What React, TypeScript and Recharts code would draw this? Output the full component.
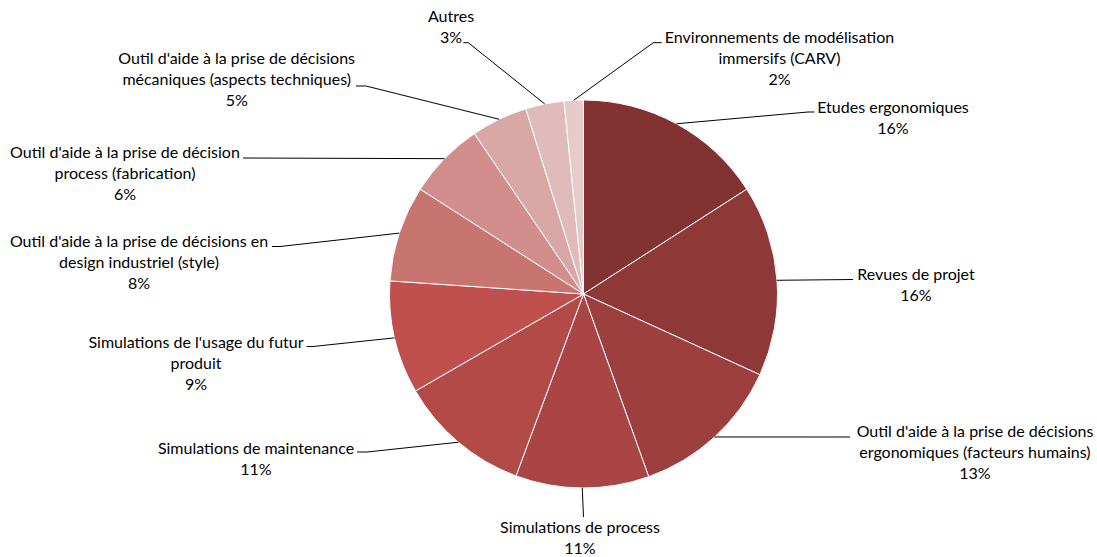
import React from 'react';
import { PieChart, Pie, Cell } from 'recharts';

const CATEGORIES: string[] = [
  'Etudes ergonomiques',
  'Revues de projet',
  "Outil d'aide à la prise de décisions ergonomiques (facteurs humains)",
  'Simulations de process',
  'Simulations de maintenance',
  "Simulations de l'usage du futur produit",
  "Outil d'aide à la prise de décisions en design industriel (style)",
  "Outil d'aide à la prise de décision process (fabrication)",
  "Outil d'aide à la prise de décisions mécaniques (aspects techniques)",
  'Autres',
  'Environnements de modélisation immersifs (CARV)',
];

const VALUES: number[] = [15.9, 15.9, 12.7, 11.1, 11.0, 9.4, 8.0, 6.4, 4.7, 3.2, 1.6];

// label text lines (wrapped as in the reference)
const LABEL_LINES: string[][] = [
  ['Etudes ergonomiques'],
  ['Revues de projet'],
  ["Outil d'aide à la prise de décisions", 'ergonomiques (facteurs humains)'],
  ['Simulations de process'],
  ['Simulations de maintenance'],
  ["Simulations de l'usage du futur", 'produit'],
  ["Outil d'aide à la prise de décisions en", 'design industriel (style)'],
  ["Outil d'aide à la prise de décision", 'process (fabrication)'],
  ["Outil d'aide à la prise de décisions", 'mécaniques (aspects techniques)'],
  ['Autres'],
  ['Environnements de modélisation', 'immersifs (CARV)'],
];

const COLORS: string[] = [
  '#833232', '#8E3837', '#9C3F3E', '#A94645', '#B24A48', '#C0504D',
  '#C87572', '#D18E8C', '#D9A7A6', '#DFBBBB', '#E6CBCB',
];

// label layout, offsets relative to the pie centre
type Layout = { tx: number; ty: number; elbow: [number, number]; end: [number, number] };
const LABEL_LAYOUT: Layout[] = [
  { tx: 309.5, ty: -181, elbow: [224.5, -182], end: [231, -182] },
  { tx: 332.5, ty: -14, elbow: [269.5, -14.5], end: [269.5, -14.5] },
  { tx: 391.5, ty: 143, elbow: [266.5, 143], end: [266.5, 143] },
  { tx: -3.5, ty: 239, elbow: [0, 223], end: [0, 223] },
  { tx: -327.5, ty: 159.5, elbow: [-216.5, 158], end: [-226.5, 158] },
  { tx: -387.5, ty: 54, elbow: [-270.5, 52.5], end: [-277, 52.5] },
  { tx: -444.5, ty: -47.3, elbow: [-303.5, -47.5], end: [-311.5, -47.5] },
  { tx: -458.5, ty: -135.7, elbow: [-340.5, -136], end: [-340.5, -136] },
  { tx: -346.8, ty: -230, elbow: [-217.5, -208], end: [-227.5, -208] },
  { tx: -132.5, ty: -272.3, elbow: [-115.2, -251.3], end: [-120.2, -251.3] },
  { tx: 196, ty: -250.7, elbow: [69.8, -251.3], end: [78.2, -251.3] },
];

const data = CATEGORIES.map((name, i) => ({ name, value: VALUES[i] }));

const RAD = Math.PI / 180;
const LINE_H = 21;

const renderLabel = (props: any) => {
  const { cx, cy, midAngle, outerRadius, percent, index } = props;
  const lay = LABEL_LAYOUT[index];
  const sx = cx + outerRadius * Math.cos(-midAngle * RAD);
  const sy = cy + outerRadius * Math.sin(-midAngle * RAD);
  const ex = cx + lay.elbow[0];
  const ey = cy + lay.elbow[1];
  const fx = cx + lay.end[0];
  const fy = cy + lay.end[1];
  const lines = [...LABEL_LINES[index], `${Math.round(percent * 100)}%`];
  const tx = cx + lay.tx;
  const ty = cy + lay.ty;
  return (
    <g key={`lbl-${index}`}>
      <polyline
        points={`${sx},${sy} ${ex},${ey} ${fx},${fy}`}
        fill="none"
        stroke="#000"
        strokeWidth={1}
      />
      <text
        x={tx}
        y={ty}
        textAnchor="middle"
        fill="#000"
        fontFamily="Lato, 'Open Sans', sans-serif"
        fontSize={16}
      >
        {lines.map((l, i) => (
          <tspan key={i} x={tx} y={ty + i * LINE_H}>
            {l}
          </tspan>
        ))}
      </text>
    </g>
  );
};

export default function App() {
  return (
    <div style={{ position: 'fixed', left: 0, top: 0, width: 1097, height: 557, background: '#fff' }}>
      <PieChart width={1097} height={557} margin={{ top: 0, right: 0, bottom: 0, left: 0 }}>
        <Pie
          data={data}
          dataKey="value"
          nameKey="name"
          cx={583.5}
          cy={294}
          outerRadius={194}
          startAngle={90}
          endAngle={-270}
          stroke="#fff"
          strokeWidth={1}
          label={renderLabel}
          labelLine={false}
          isAnimationActive={false}
        >
          {data.map((d, i) => (
            <Cell key={d.name} fill={COLORS[i]} />
          ))}
        </Pie>
      </PieChart>
    </div>
  );
}
